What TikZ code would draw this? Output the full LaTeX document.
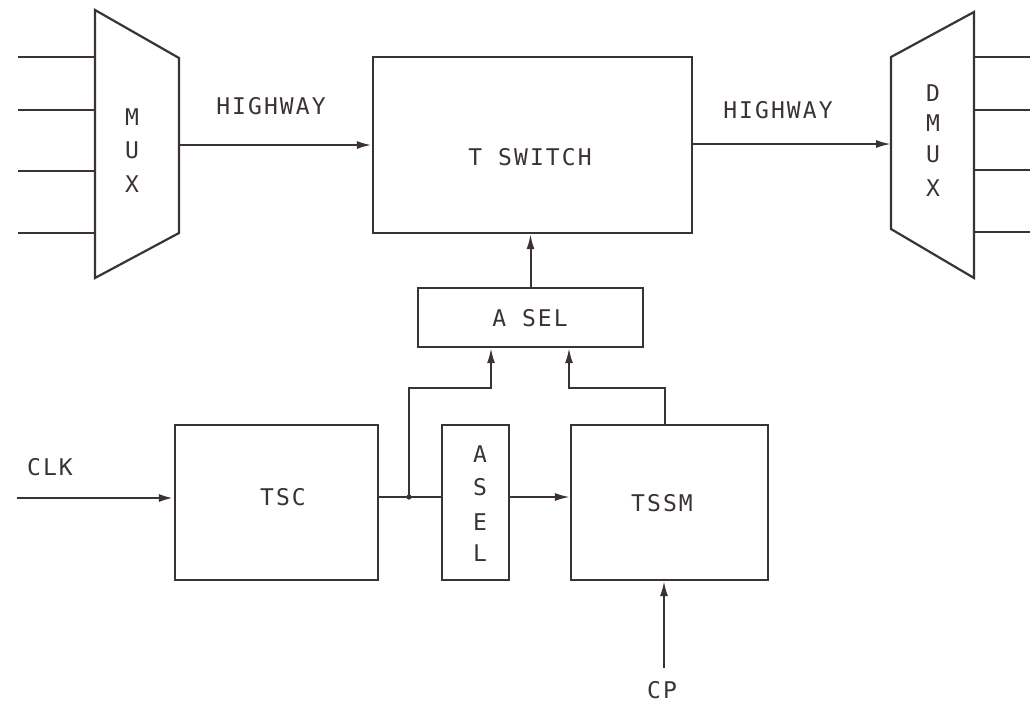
\documentclass[tikz,border=0pt]{standalone}
\usepackage{fontspec}
\setmonofont[LetterSpace=9]{DejaVu Sans Mono}
\usetikzlibrary{arrows.meta}
\definecolor{ink}{HTML}{3A3238}
\begin{document}
\begin{tikzpicture}[x=1pt,y=-1pt,
  line width=2.2pt, draw=ink,
  every node/.style={text=ink, font=\ttfamily\fontsize{23}{25}\selectfont},
  blk/.style={draw=ink, line width=2.2pt, inner sep=0pt, fill=white},
  lbl/.style={inner sep=0pt},
  sig/.style={-{Latex[length=15pt,width=8pt]}, line width=2pt},
  wire/.style={line width=2pt}]
\useasboundingbox (0,0) rectangle (1030,702);

% multiplexer and demultiplexer trapezoids
\draw[line width=2.2pt] (95,10) -- (179,58) -- (179,233) -- (95,278) -- cycle;
\draw[line width=2.2pt] (891,57) -- (974,12) -- (974,278) -- (891,229) -- cycle;
\node[lbl] (muxm) at (132,117) {M};
\node[lbl] (muxu) at (132,150) {U};
\node[lbl] (muxx) at (132,184) {X};
\node[lbl] (dmxd) at (933,93) {D};
\node[lbl] (dmxm) at (933,123) {M};
\node[lbl] (dmxu) at (933,154) {U};
\node[lbl] (dmxx) at (933,188) {X};

% multiplexer inputs and demultiplexer outputs
\foreach \y [count=\i] in {57,110,171,233} {
  \coordinate (in\i) at (18,\y);
  \draw[wire] (in\i) -- (95,\y);
}
\foreach \y [count=\i] in {57,110,170,232} {
  \coordinate (out\i) at (1030,\y);
  \draw[wire] (974,\y) -- (out\i);
}

% blocks
\node[blk, minimum width=319pt, minimum height=176pt] (tsw) at (532.5,145) {};
\node[lbl] (tswl) at (530,157) {T SWITCH};
\node[blk, minimum width=225pt, minimum height=59pt] (asel) at (530.5,317.5) {};
\node[lbl] (asell) at (530,318) {A SEL};
\node[blk, minimum width=203pt, minimum height=155pt] (tsc) at (276.5,502.5) {};
\node[lbl] (tscl) at (283,497) {TSC};
\node[blk, minimum width=67pt, minimum height=155pt] (aselv) at (475.5,502.5) {};
\node[lbl] (av1) at (480,454) {A};
\node[lbl] (av2) at (480,487) {S};
\node[lbl] (av3) at (480,522) {E};
\node[lbl] (av4) at (480,553) {L};
\node[blk, minimum width=197pt, minimum height=155pt] (tssm) at (669.5,502.5) {};
\node[lbl] (tssml) at (662,503) {TSSM};

% highway labels and signal names
\node[lbl] (hw1) at (271,106) {HIGHWAY};
\node[lbl] (hw2) at (778,110) {HIGHWAY};
\node[lbl] (clkl) at (50,467) {CLK};
\node[lbl] (cpl) at (662,690) {CP};

% highways
\coordinate (muxout) at (179,145);
\draw[sig, line width=2.4pt] (muxout) -- (muxout -| tsw.west);
\coordinate (dmxin) at (891,144);
\draw[sig] (dmxin -| tsw.east) -- (dmxin);

% address selector to T switch
\draw[sig] (asel.north) -- (asel.north |- tsw.south);

% clock into TSC
\coordinate (clk) at (17,498);
\draw[sig, line width=2.6pt] (clk) -- (clk -| tsc.west);

% TSC output with branch up to A SEL
\coordinate (j) at (409,497);
\draw[wire] (j -| tsc.east) -- (j -| aselv.west);
\fill[ink] (j) circle (2.6pt);
\coordinate (bl) at (491,388);
\draw[sig] (j) |- (bl) -- (bl |- asel.south);
\draw[sig] (j -| aselv.east) -- (j -| tssm.west);

% TSSM output up to A SEL
\coordinate (ts) at (665,388);
\coordinate (br) at (569,388);
\draw[sig] (ts |- tssm.north) -- (ts) -- (br) -- (br |- asel.south);

% processor input
\coordinate (cp) at (664,668);
\draw[sig] (cp) -- (cp |- tssm.south);
\end{tikzpicture}
\end{document}
